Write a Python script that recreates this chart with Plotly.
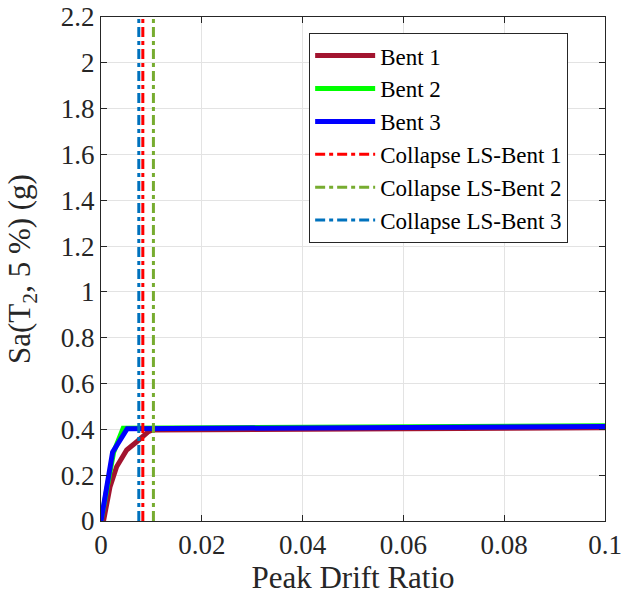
import plotly.graph_objects as go

# Data
bent1_x = [0.0005, 0.0018, 0.0031, 0.0051, 0.0071, 0.0094, 0.0102, 0.03, 0.06, 0.1]
bent1_y = [0.0, 0.15, 0.237, 0.31, 0.346, 0.39, 0.397, 0.400, 0.404, 0.407]
bent2_x = [0.0, 0.0015, 0.0025, 0.0044, 0.03, 0.06, 0.1]
bent2_y = [0.0, 0.20, 0.30, 0.405, 0.408, 0.412, 0.416]
bent3_x = [0.0, 0.0023, 0.0052, 0.03, 0.06, 0.1]
bent3_y = [0.0, 0.30, 0.403, 0.405, 0.408, 0.412]
collapse_x = [0.0083, 0.0104, 0.0075]
collapse_names = ["Collapse LS-Bent 1", "Collapse LS-Bent 2", "Collapse LS-Bent 3"]
y_span = [0, 2.2]
x_ticks = [0, 0.02, 0.04, 0.06, 0.08, 0.1]
x_tick_labels = ["0", "0.02", "0.04", "0.06", "0.08", "0.1"]
y_ticks = [0, 0.2, 0.4, 0.6, 0.8, 1, 1.2, 1.4, 1.6, 1.8, 2, 2.2]
y_tick_labels = ["0", "0.2", "0.4", "0.6", "0.8", "1", "1.2", "1.4", "1.6", "1.8", "2", "2.2"]

font_family = "Liberation Serif"
dark = "#262626"

fig = go.Figure()
fig.add_trace(go.Scatter(x=bent1_x, y=bent1_y, mode="lines", name="Bent 1",
                         line=dict(color="#A2142F", width=5)))
fig.add_trace(go.Scatter(x=bent2_x, y=bent2_y, mode="lines", name="Bent 2",
                         line=dict(color="#00FF00", width=5)))
fig.add_trace(go.Scatter(x=bent3_x, y=bent3_y, mode="lines", name="Bent 3",
                         line=dict(color="#0000FF", width=5)))
collapse_colors = ["#FF0000", "#77AC30", "#0072BD"]
for xv, nm, c in zip(collapse_x, collapse_names, collapse_colors):
    fig.add_trace(go.Scatter(x=[xv, xv], y=y_span, mode="lines", name=nm,
                             line=dict(color=c, width=3, dash="10px,4px,4px,4px")))

axis_common = dict(
    showline=True, linecolor=dark, linewidth=1, mirror="ticks",
    ticks="inside", ticklen=6, tickcolor=dark,
    showgrid=True, gridcolor="#e3e3e3", gridwidth=1,
    zeroline=False, automargin=False,
    tickfont=dict(family=font_family, size=27, color=dark),
)

fig.update_layout(
    width=623, height=603,
    margin=dict(l=101, r=18, t=17, b=82),
    paper_bgcolor="white", plot_bgcolor="white",
    font=dict(family=font_family, color=dark),
    xaxis=dict(range=[0, 0.1], tickvals=x_ticks, ticktext=x_tick_labels,
               title=dict(text="Peak Drift Ratio", font=dict(family=font_family, size=31, color=dark), standoff=6),
               **axis_common),
    yaxis=dict(range=[0, 2.2], tickvals=y_ticks, ticktext=y_tick_labels,
               title=dict(text="Sa(T<sub>2</sub>, 5 %) (g)", font=dict(family=font_family, size=31, color=dark), standoff=20),
               **axis_common),
    legend=dict(x=0.413, y=0.968, xanchor="left", yanchor="top",
                bgcolor="white", bordercolor=dark, borderwidth=1,
                font=dict(family=font_family, size=23, color="black"),
                itemwidth=60, tracegroupgap=0),
    showlegend=True,
)

fig.write_html("out.html", config={"displayModeBar": False},
               post_script="document.body.style.margin='0px';")
